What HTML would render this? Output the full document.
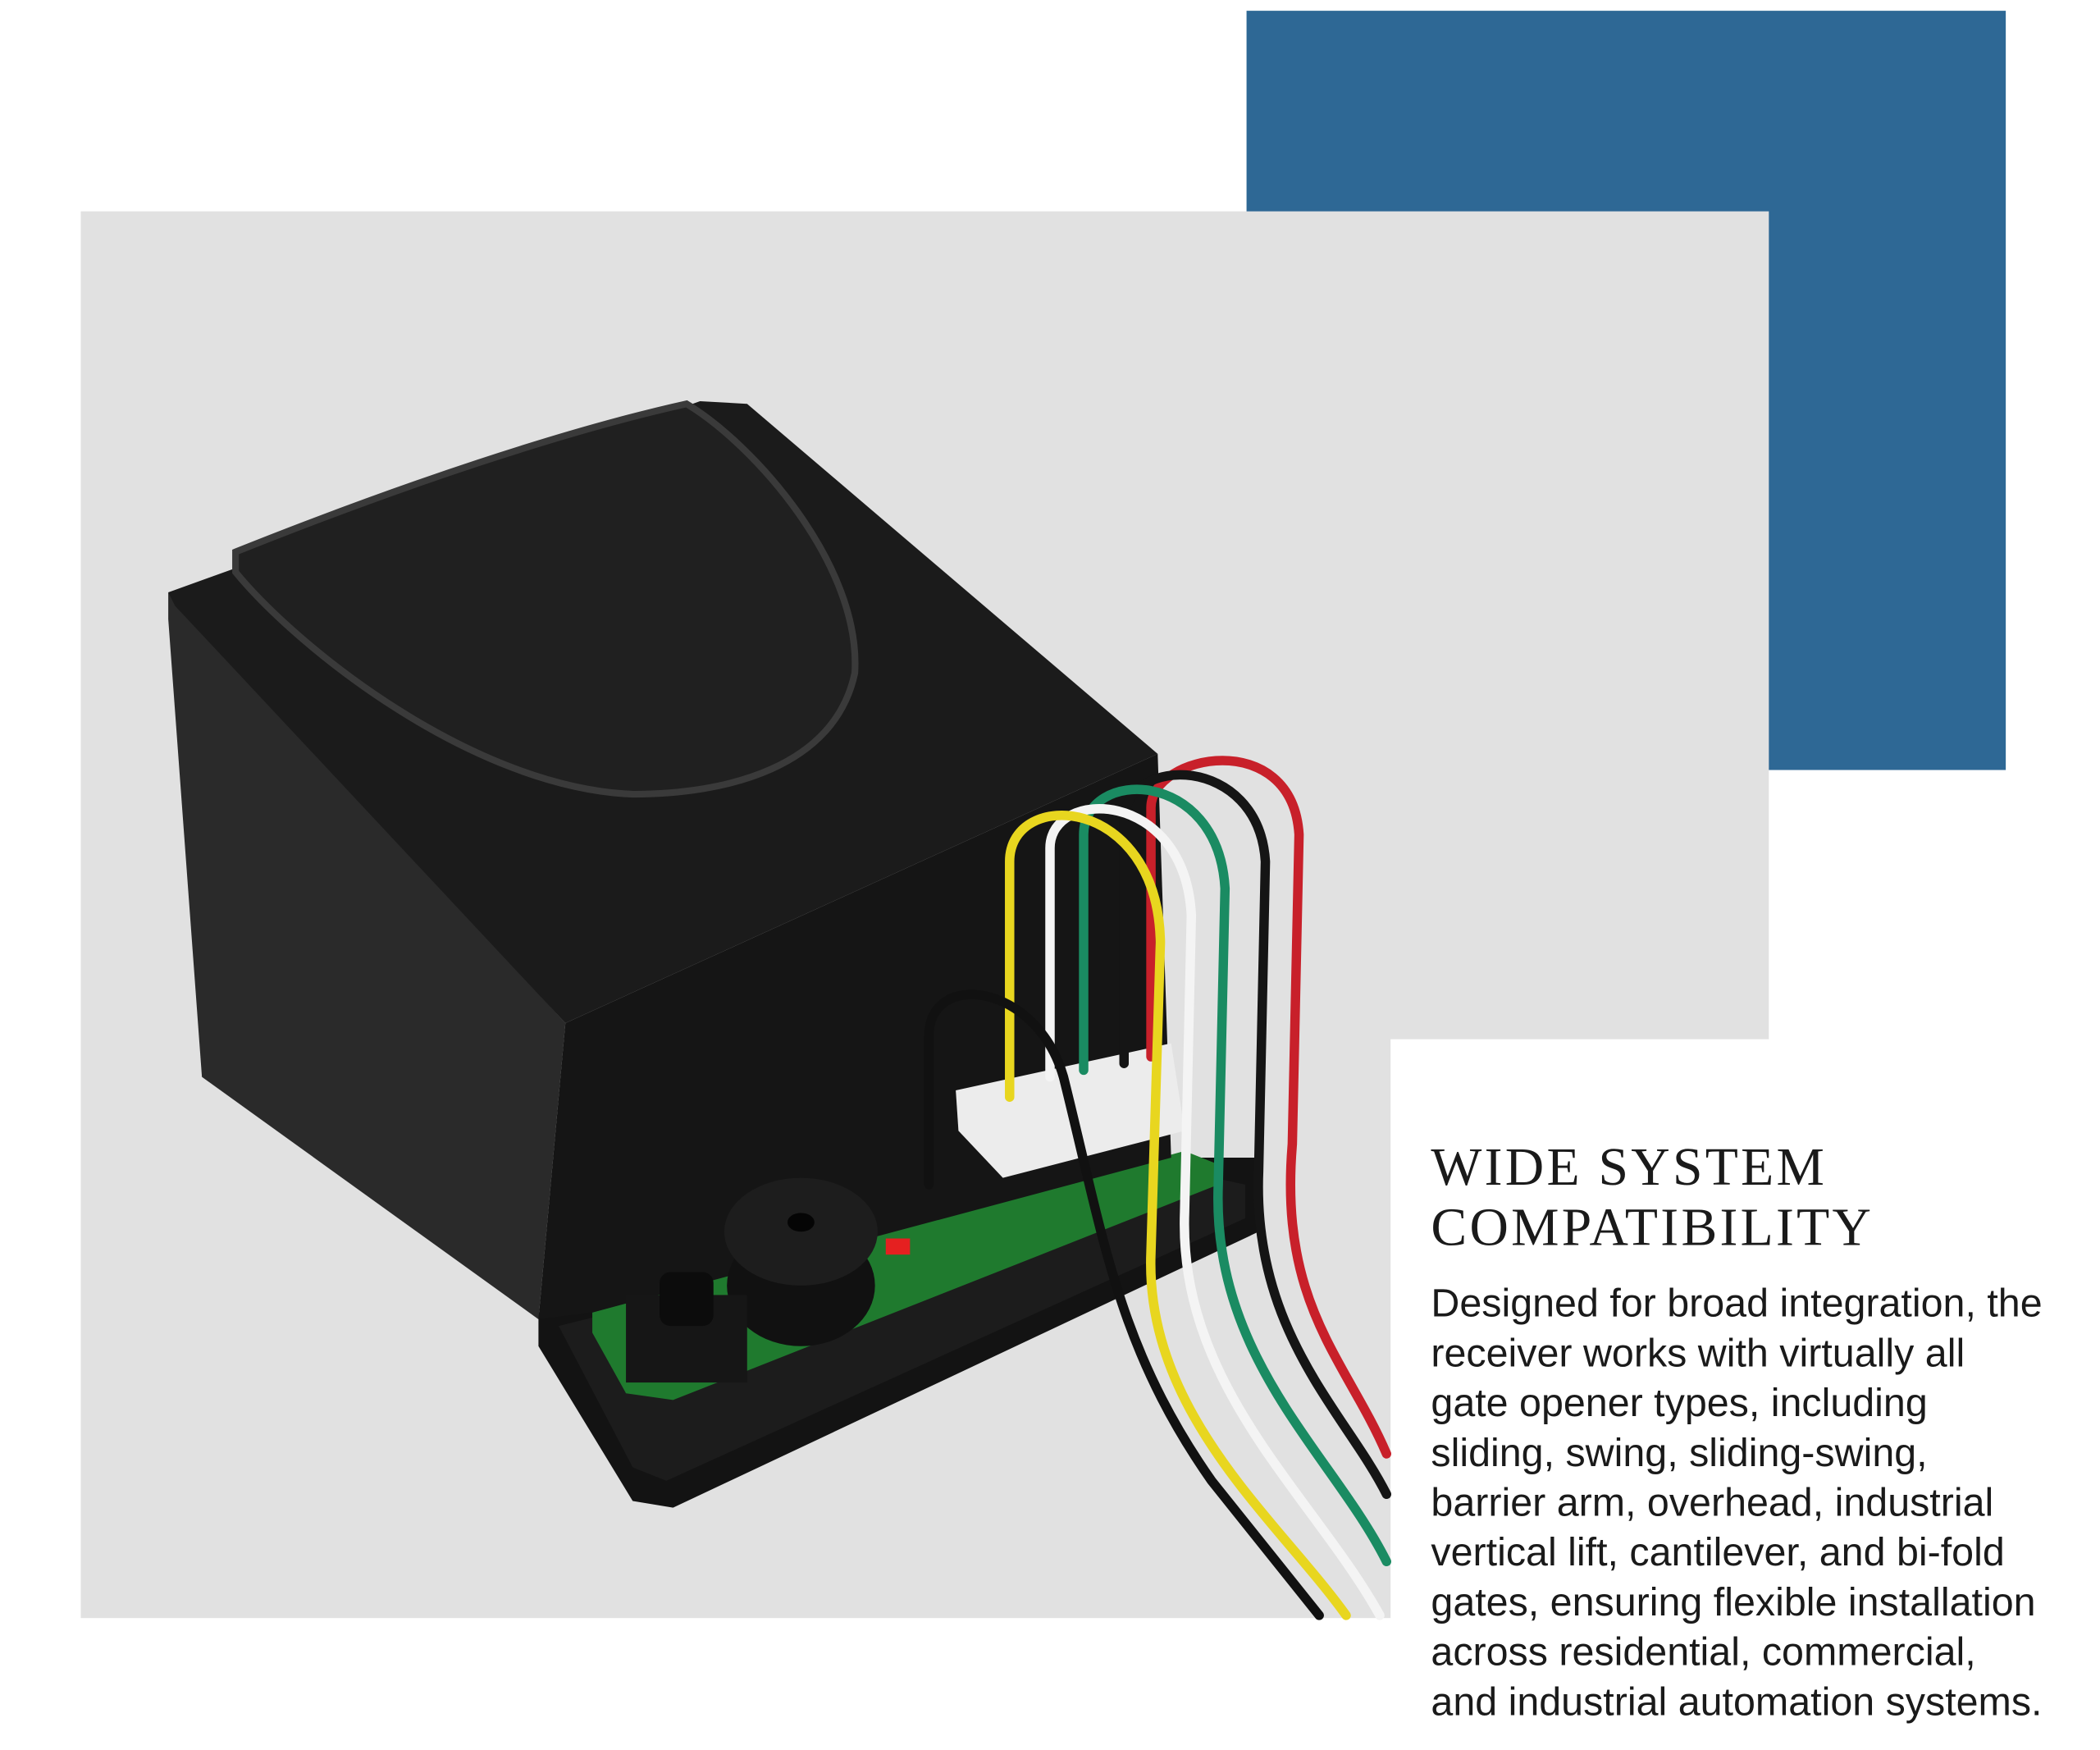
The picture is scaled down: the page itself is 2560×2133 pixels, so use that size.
<!DOCTYPE html>
<html><head><meta charset="utf-8"><style>
html,body{margin:0;padding:0;background:#fff;}
svg{display:block;}
</style></head><body>
<svg width="2560" height="2133" viewBox="0 0 1560 1300" preserveAspectRatio="none" xmlns="http://www.w3.org/2000/svg">
<rect x="0" y="0" width="1560" height="1300" fill="#fff"/>
<rect x="926" y="8" width="564" height="564" fill="#2e6895"/>
<rect x="60" y="157" width="1254" height="1045" fill="#e1e1e1"/>
<rect x="1033" y="772" width="300" height="440" fill="#fff"/>
<polygon points="400,975 870,860 935,860 935,915 500,1120 470,1115 400,1000" fill="#131313"/>
<polygon points="415,985 880,870 925,880 925,905 495,1100 470,1090" fill="#1c1c1c"/>
<polygon points="440,975 880,855 905,865 905,880 500,1040 465,1035 440,990" fill="#1f7a2e"/>
<polygon points="125,440 420,760 400,980 150,800 125,460" fill="#2a2a2a"/>
<polygon points="420,760 860,560 870,860 440,975 400,980" fill="#151515"/>
<polygon points="125,440 520,298 555,300 860,560 420,760 130,450" fill="#1b1b1b"/>
<path d="M175,410 C300,360 420,320 510,300 C560,330 640,420 635,500 C620,570 540,590 470,590 C350,585 220,480 175,425 Z" fill="#202020" stroke="#3a3a3a" stroke-width="5"/>
<ellipse cx="595" cy="955" rx="55" ry="45" fill="#111"/>
<ellipse cx="595" cy="915" rx="57" ry="40" fill="#1d1d1d"/>
<ellipse cx="595" cy="908" rx="10" ry="7" fill="#050505"/>
<rect x="465" y="962" width="90" height="65" fill="#161616"/>
<rect x="490" y="945" width="40" height="40" rx="8" fill="#0c0c0c"/>
<rect x="658" y="920" width="18" height="12" fill="#e52020"/>
<polygon points="710,810 870,775 880,840 745,875 712,840" fill="#ececec"/>
<g fill="none" stroke-width="7" stroke-linecap="round">
<path d="M855,785 L855,600 C855,560 960,540 965,620 L960,850 C950,970 1000,1010 1030,1080" stroke="#c8202a"/>
<path d="M835,790 L835,610 C835,560 935,560 940,640 L935,870 C930,990 1000,1050 1030,1110" stroke="#151515"/>
<path d="M805,795 L805,620 C805,570 905,570 910,660 L905,880 C900,1010 990,1080 1030,1160" stroke="#1a8b62"/>
<path d="M780,800 L780,630 C780,585 880,585 885,680 L880,900 C875,1030 975,1110 1025,1200" stroke="#f4f4f4"/>
<path d="M750,815 L750,640 C750,585 860,590 862,700 L855,930 C850,1050 950,1130 1000,1200" stroke="#e8d61f"/>
<path d="M690,880 L690,770 C690,720 770,730 790,800 C820,920 830,1000 900,1100 L980,1200" stroke="#111"/>
</g>
<g font-family="'Liberation Serif',serif" font-size="40" fill="#1a1a1a" letter-spacing="2">
<text x="1063" y="880">WIDE SYSTEM</text>
<text x="1063" y="925">COMPATIBILITY</text>
</g>
<g font-family="'Liberation Sans',sans-serif" font-size="29.5" fill="#1a1a1a">
<text x="1063" y="978">Designed for broad integration, the</text>
<text x="1063" y="1015">receiver works with virtually all</text>
<text x="1063" y="1052">gate opener types, including</text>
<text x="1063" y="1089">sliding, swing, sliding-swing,</text>
<text x="1063" y="1126">barrier arm, overhead, industrial</text>
<text x="1063" y="1163">vertical lift, cantilever, and bi-fold</text>
<text x="1063" y="1200">gates, ensuring flexible installation</text>
<text x="1063" y="1237">across residential, commercial,</text>
<text x="1063" y="1274">and industrial automation systems.</text>
</g>
</svg>
</body></html>
